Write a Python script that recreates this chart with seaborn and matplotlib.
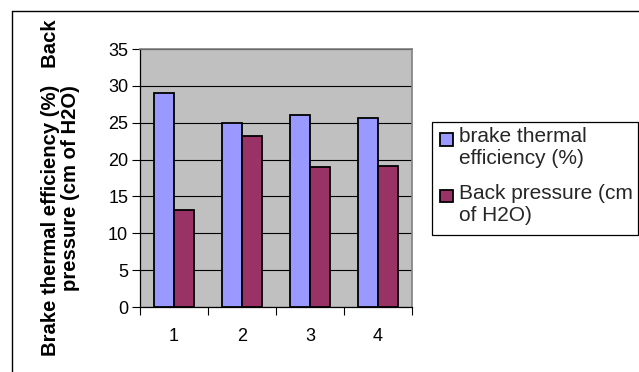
import matplotlib
matplotlib.use("Agg")
import matplotlib.pyplot as plt
import matplotlib.patches as mpatches
from matplotlib.legend_handler import HandlerPatch
from matplotlib.lines import Line2D
import seaborn as sns
import pandas as pd

# Test runs and measured values
runs = ["1", "2", "3", "4"]
brake_thermal_eff = [29.0, 25.0, 26.0, 25.6]
back_pressure = [13.1, 23.2, 19.0, 19.1]
series_names = ["brake thermal\nefficiency (%)", "Back pressure (cm\nof H2O)"]
y_ticks = [0, 5, 10, 15, 20, 25, 30, 35]

df = pd.DataFrame({
    "run": runs * 2,
    "value": brake_thermal_eff + back_pressure,
    "series": [series_names[0]] * len(runs) + [series_names[1]] * len(runs),
})

sns.set_theme(style="white")
plt.rcParams["font.family"] = ["Liberation Sans", "DejaVu Sans"]

fig = plt.figure(figsize=(6.39, 3.72), dpi=100)
ax = fig.add_axes([140 / 639, 1 - 307 / 372, 272 / 639, 258 / 372])
ax.set_facecolor("#C0C0C0")

palette = {series_names[0]: "#9999FF", series_names[1]: "#993366"}
sns.barplot(data=df, x="run", y="value", hue="series", palette=palette,
            width=0.58, edgecolor="black", linewidth=1.3, saturation=1,
            legend=False, ax=ax, zorder=3)

ax.set_ylim(0, 35)
ax.set_xlim(-0.5, 3.5)
ax.set_yticks(y_ticks)
ax.set_yticklabels([str(t) for t in y_ticks])
ax.yaxis.grid(True, color="black", linewidth=0.8, zorder=1)
ax.set_axisbelow(True)

# category labels at centres, tick marks at category boundaries
ax.set_xticks(range(len(runs)))
ax.set_xticklabels(runs)
ax.set_xticks([i - 0.5 for i in range(len(runs) + 1)], minor=True)
ax.tick_params(axis="x", which="major", length=0, pad=15, labelsize=13, colors="black")
ax.tick_params(axis="x", which="minor", length=6, width=0.8, color="black", bottom=True)
ax.tick_params(axis="y", length=5.5, width=0.8, color="black", left=True, pad=3,
               labelsize=13, labelcolor="black")
ax.set_xlabel("")

for side in ("top", "right"):
    ax.spines[side].set_color("#808080")
    ax.spines[side].set_linewidth(1.2)
for side in ("left", "bottom"):
    ax.spines[side].set_color("black")
    ax.spines[side].set_linewidth(0.9)

ax.set_ylabel("Brake thermal efficiency (%)   Back\npressure (cm of H2O)",
              fontsize=14.6, fontweight="bold", color="black", linespacing=1.1)
ax.yaxis.set_label_coords(-0.22, 0.462)


def top_square(legend, orig_handle, xdescent, ydescent, width, height, fontsize):
    # square key aligned with the first line of a two-line label
    return mpatches.Rectangle((-xdescent, -ydescent + height - width), width, width)


handles = [mpatches.Patch(facecolor=palette[n], edgecolor="black", linewidth=1.3)
           for n in series_names]
fig.legend(handles, series_names, loc="upper left",
           bbox_to_anchor=(440 / 639, 1 - 127 / 372), frameon=False,
           fontsize=15, handlelength=0.62, handleheight=1.9, handletextpad=0.3,
           labelspacing=0.75, borderaxespad=0, borderpad=0,
           handler_map={mpatches.Patch: HandlerPatch(patch_func=top_square)})
fig.patches.append(mpatches.Rectangle((432 / 639, 1 - 235 / 372), 206 / 639, 113 / 372,
                                      transform=fig.transFigure, fill=False,
                                      edgecolor="black", linewidth=0.9))

# outer chart border
fig.lines.append(Line2D([12 / 639, 1.0], [1 - 11 / 372, 1 - 11 / 372],
                        transform=fig.transFigure, color="black", linewidth=1.0))
fig.lines.append(Line2D([12 / 639, 12 / 639], [0.0, 1 - 11 / 372],
                        transform=fig.transFigure, color="black", linewidth=1.0))

fig.savefig("out.png", dpi=100)
